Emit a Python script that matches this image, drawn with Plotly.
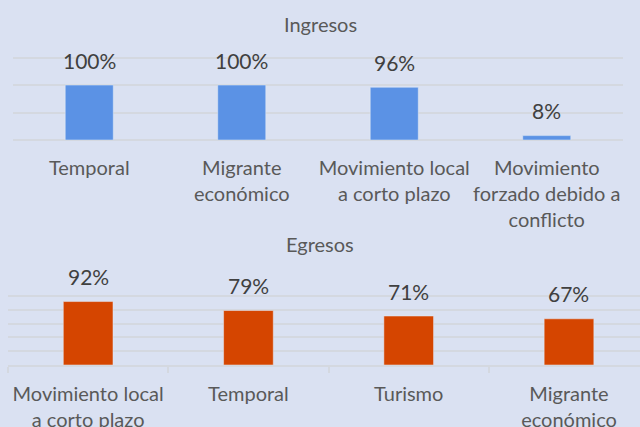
import plotly.graph_objects as go

# Data
ing_categories = ["Temporal", "Migrante<br>económico", "Movimiento local<br>a corto plazo",
                  "Movimiento<br>forzado debido a<br>conflicto"]
ing_values = [100, 100, 96, 8]
egr_categories = ["Movimiento local<br>a corto plazo", "Temporal", "Turismo", "Migrante<br>económico"]
egr_values = [92, 79, 71, 67]
titles = ["Ingresos", "Egresos"]

BG = "#dae1f2"
BLUE = "#5b92e5"
ORANGE = "#d54500"
GRID = "#d4d8e0"
LABEL = "#404040"
TICK = "#595959"
FONT = "Lato"

W, H = 640, 427

def py(pix):
    return 1 - pix / H

fig = go.Figure()
fig.add_trace(go.Bar(x=ing_categories, y=ing_values, marker_color=BLUE, width=0.315,
                     xaxis="x", yaxis="y", showlegend=False, hoverinfo="skip"))
fig.add_trace(go.Bar(x=egr_categories, y=egr_values, marker_color=ORANGE, width=0.31,
                     xaxis="x2", yaxis="y2", showlegend=False, hoverinfo="skip"))

annotations = []
for c, v in zip(ing_categories, ing_values):
    annotations.append(dict(x=c, y=v, xref="x", yref="y", text=f"{v}%", showarrow=False,
                            yanchor="middle", yshift=25, font=dict(size=21, color=LABEL, family=FONT)))
for c, v in zip(egr_categories, egr_values):
    annotations.append(dict(x=c, y=v, xref="x2", yref="y2", text=f"{v}%", showarrow=False,
                            yanchor="middle", yshift=25, font=dict(size=21, color=LABEL, family=FONT)))
annotations.append(dict(x=0.5, y=py(24), xref="paper", yref="paper", text=titles[0], showarrow=False,
                        yanchor="middle", font=dict(size=20, color=TICK, family=FONT)))
annotations.append(dict(x=0.5, y=py(244), xref="paper", yref="paper", text=titles[1], showarrow=False,
                        yanchor="middle", font=dict(size=20, color=TICK, family=FONT)))

fig.update_layout(
    width=W, height=H, autosize=False,
    margin=dict(l=0, r=0, t=0, b=0, autoexpand=False),
    paper_bgcolor=BG, plot_bgcolor=BG,
    font=dict(family=FONT, color=TICK, size=20),
    annotations=annotations,
    xaxis=dict(domain=[13 / W, 623 / W], type="category", range=[-0.5, 3.5],
               showgrid=False, showline=False, ticks="", anchor="y", ticklabelstandoff=14,
               tickangle=0, automargin=False,
               tickfont=dict(size=20, color=TICK, family=FONT)),
    yaxis=dict(domain=[py(140), py(56.5)], range=[0, 152], dtick=50, showgrid=True,
               gridcolor=GRID, gridwidth=1.5, zeroline=True, zerolinecolor=GRID, zerolinewidth=1.5,
               showticklabels=False, anchor="x", automargin=False),
    xaxis2=dict(domain=[8 / W, 1.0], type="category", range=[-0.5, 3.443],
                showgrid=False, showline=True, linecolor=GRID, linewidth=1.5,
                ticks="outside", tickson="boundaries", ticklen=6, tickcolor=GRID, tickwidth=1.5,
                tickangle=0, automargin=False,
                anchor="y2", ticklabelstandoff=10, tickfont=dict(size=20, color=TICK, family=FONT)),
    yaxis2=dict(domain=[py(365), py(295)], range=[0, 101.5], dtick=20, showgrid=True,
                gridcolor=GRID, gridwidth=1.5, zeroline=False,
                showticklabels=False, anchor="x2", automargin=False),
)

fig.write_html("out.html", config={"displayModeBar": False, "responsive": False},
               post_script="document.body.style.margin='0';document.body.style.overflow='hidden';")
